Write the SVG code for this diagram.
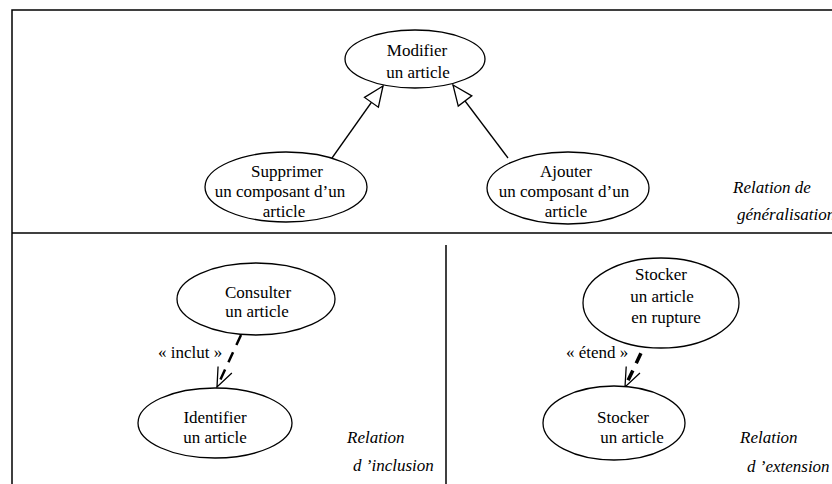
<svg xmlns="http://www.w3.org/2000/svg" width="832" height="484" viewBox="0 0 832 484">
  <style>
    .frame { stroke: #000; stroke-width: 1.5; fill: none; }
    .uc { fill: #fff; stroke: #000; stroke-width: 1.3; }
    .t { font-family: "Liberation Serif", "Times New Roman", serif; font-size: 17px; fill: #000; text-anchor: middle; }
    .lbl { font-family: "Liberation Serif", "Times New Roman", serif; font-size: 17px; fill: #000; }
    .it { font-style: italic; }
    .gen { stroke: #000; stroke-width: 1.3; fill: none; }
    .dep { stroke: #000; fill: none; stroke-dasharray: 11 8; }
  </style>
  <defs>
    <!-- hollow triangle for generalisation -->
    <marker id="tri" viewBox="-21 -10 22 20" refX="0" refY="0" markerWidth="22" markerHeight="20" markerUnits="userSpaceOnUse" orient="auto" overflow="visible">
      <path d="M-20,-8.5 L0,0 L-20,8.5 Z" fill="#fff" stroke="#000" stroke-width="1.3" stroke-dasharray="none"/>
    </marker>
    <!-- open arrowhead for include / extend -->
    <marker id="open" viewBox="-21 -10 22 20" refX="0" refY="0" markerWidth="22" markerHeight="20" markerUnits="userSpaceOnUse" orient="auto" overflow="visible">
      <path d="M-19,-7.6 L0,0 L-19,7.6" fill="none" stroke="#000" stroke-width="1.3" stroke-dasharray="none"/>
    </marker>
  </defs>

  <!-- frame and separators -->
  <g id="frame">
    <path class="frame" d="M12,484 V10 H832"/>
    <line class="frame" x1="12" y1="233" x2="832" y2="233"/>
    <line class="frame" x1="446" y1="245" x2="446" y2="484"/>
  </g>

  <!-- connectors -->
  <g id="connectors">
    <line class="gen" x1="332" y1="158" x2="383" y2="86" marker-end="url(#tri)"/>
    <line class="gen" x1="508" y1="158" x2="453" y2="85" marker-end="url(#tri)"/>
    <line class="dep" stroke-width="2.5" x1="241" y1="335" x2="217" y2="387" marker-end="url(#open)"/>
    <line class="dep" stroke-width="3.5" x1="649" y1="336" x2="625" y2="387" marker-end="url(#open)"/>
  </g>

  <!-- generalisation -->
  <g id="modifier">
    <ellipse class="uc" cx="415" cy="59" rx="70" ry="29"/>
    <text class="t" x="417" y="56">Modifier</text>
    <text class="t" x="418" y="78">un article</text>
  </g>
  <g id="supprimer">
    <ellipse class="uc" cx="286" cy="187" rx="81" ry="35"/>
    <text class="t" x="287" y="177">Supprimer</text>
    <text class="t" x="280" y="197">un composant d’un</text>
    <text class="t" x="284" y="217">article</text>
  </g>
  <g id="ajouter">
    <ellipse class="uc" cx="568" cy="188" rx="81" ry="36"/>
    <text class="t" x="566" y="177">Ajouter</text>
    <text class="t" x="564" y="197">un composant d’un</text>
    <text class="t" x="566" y="217">article</text>
  </g>
  <g id="label-generalisation">
    <text class="lbl it" x="733" y="193">Relation de</text>
    <text class="lbl it" x="737" y="220">généralisation</text>
  </g>

  <!-- inclusion -->
  <g id="consulter">
    <ellipse class="uc" cx="256" cy="299" rx="79" ry="36"/>
    <text class="t" x="258" y="298">Consulter</text>
    <text class="t" x="257" y="317">un article</text>
  </g>
  <g id="identifier">
    <ellipse class="uc" cx="215" cy="423" rx="77" ry="35"/>
    <text class="t" x="215" y="423">Identifier</text>
    <text class="t" x="215" y="443">un article</text>
  </g>
  <text class="lbl" x="158" y="358">« inclut »</text>
  <g id="label-inclusion">
    <text class="lbl it" x="347" y="443">Relation</text>
    <text class="lbl it" x="353" y="471">d ’inclusion</text>
  </g>

  <!-- extension -->
  <g id="stocker-rupture">
    <ellipse class="uc" cx="661" cy="303" rx="78" ry="45"/>
    <text class="t" x="661" y="280">Stocker</text>
    <text class="t" x="662" y="302">un article</text>
    <text class="t" x="666" y="323">en rupture</text>
  </g>
  <g id="stocker">
    <ellipse class="uc" cx="614" cy="423" rx="71" ry="37"/>
    <text class="t" x="623" y="423">Stocker</text>
    <text class="t" x="632" y="443">un article</text>
  </g>
  <text class="lbl" x="566" y="358">« étend »</text>
  <g id="label-extension">
    <text class="lbl it" x="740" y="443">Relation</text>
    <text class="lbl it" x="747" y="472">d ’extension</text>
  </g>
</svg>
